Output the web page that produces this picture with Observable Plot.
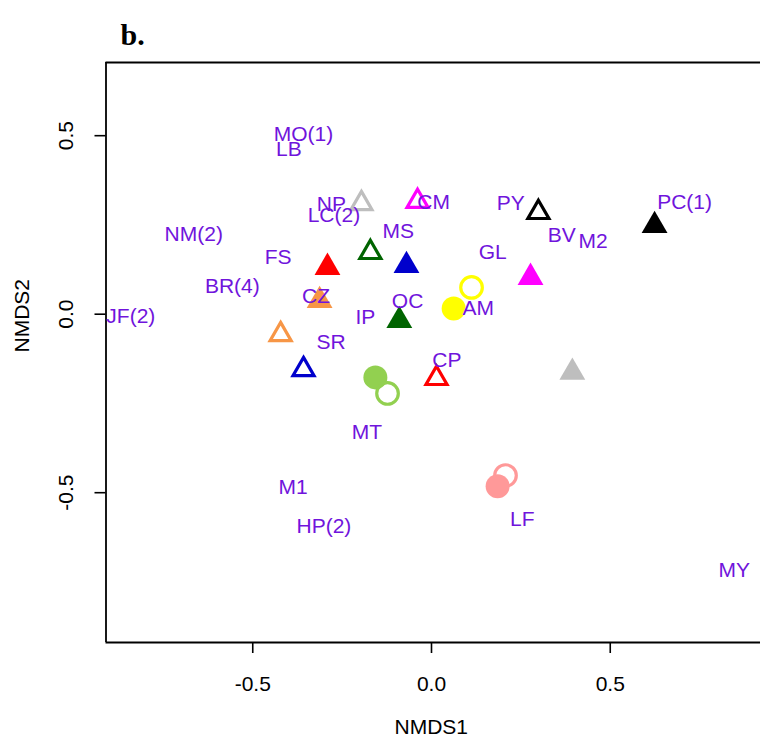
<!DOCTYPE html>
<html>
<head>
<meta charset="utf-8">
<script src="https://cdn.jsdelivr.net/npm/d3@7"></script>
<script src="https://cdn.jsdelivr.net/npm/@observablehq/plot@0.6"></script>
<style>
  html, body { margin: 0; padding: 0; background: #fff; }
  #chart svg { display: block; }
</style>
</head>
<body>
<div id="chart"></div>
<script>
// Axis settings
const xDomain = [-0.9105, 0.9203];
const yDomain = [-0.9196, 0.7050];
const xTicks = [-0.5, 0.0, 0.5];
const yTicks = [-0.5, 0.0, 0.5];
const xTitle = "NMDS1";
const yTitle = "NMDS2";
const panelTitle = "b.";

// Points (NMDS scores)
const ptX = [-0.196, -0.039, -0.171, -0.291, -0.070, -0.313, -0.090, -0.422, -0.358, -0.157, -0.123, 0.014, 0.112, 0.062, 0.277, 0.299, 0.624, 0.394, 0.207, 0.185];
const ptY = [0.310, 0.316, 0.173, 0.131, 0.136, 0.038, -0.018, -0.057, -0.155, -0.177, -0.222, -0.180, 0.075, 0.016, 0.103, 0.285, 0.248, -0.163, -0.452, -0.482];
const ptColor = ["#BEBEBE", "#FF00FF", "#006400", "#FF0000", "#0000CC", "#F79646", "#006400", "#F79646", "#0000CC", "#92D050", "#92D050", "#FF0000", "#FFFF00", "#FFFF00", "#FF00FF", "#000000", "#000000", "#BEBEBE", "#FF9999", "#FF9999"];
const ptShape = ["triangle", "triangle", "triangle", "triangle", "triangle", "triangle", "triangle", "triangle", "triangle", "circle", "circle", "triangle", "circle", "circle", "triangle", "triangle", "triangle", "triangle", "circle", "circle"];
const ptFilled = [false, false, false, true, true, true, true, false, false, true, false, false, false, true, true, false, true, true, false, true];

// Site labels
const labText = ["MO(1)", "LB", "NP", "LC(2)", "NM(2)", "MS", "FS", "BR(4)", "CZ", "OC", "JF(2)", "IP", "SR", "CM", "PY", "PC(1)", "BV", "M2", "GL", "AM", "CP", "MT", "M1", "HP(2)", "LF", "MY"];
const labX = [-0.358, -0.399, -0.280, -0.273, -0.665, -0.093, -0.429, -0.557, -0.323, -0.067, -0.841, -0.185, -0.281, 0.006, 0.222, 0.708, 0.364, 0.452, 0.171, 0.131, 0.043, -0.181, -0.387, -0.301, 0.254, 0.847];
const labY = [0.505, 0.462, 0.308, 0.276, 0.224, 0.232, 0.160, 0.079, 0.051, 0.037, -0.006, -0.008, -0.079, 0.314, 0.311, 0.313, 0.222, 0.205, 0.174, 0.018, -0.129, -0.331, -0.484, -0.593, -0.575, -0.717];
const labColor = "#7014DC";

const points = ptX.map((x, i) => ({x, y: ptY[i], color: ptColor[i], shape: ptShape[i], filled: ptFilled[i]}));
const labels = labText.map((t, i) => ({t, x: labX[i], y: labY[i]}));

const FONT = "'Liberation Sans', Arial, Helvetica, sans-serif";

const pointMarks = points.map(p => Plot.dot([p], {
  x: "x", y: "y",
  symbol: p.shape,
  r: p.shape === "circle" ? (p.filled ? 12 : 10.8) : (p.filled ? 9.6 : 7.8),
  fill: p.filled ? p.color : "none",
  stroke: p.filled ? "none" : p.color,
  strokeWidth: 3.2
}));

const chart = Plot.plot({
  width: 760,
  height: 747,
  marginLeft: 105.5,
  marginRight: 0,
  marginTop: 62,
  marginBottom: 105,
  x: {domain: xDomain},
  y: {domain: yDomain},
  style: {fontFamily: FONT, fontSize: "21px", background: "white", color: "black"},
  marks: [
    // frame (left, top, bottom; right edge lies outside the picture)
    Plot.ruleX([xDomain[0]], {stroke: "black", strokeWidth: 1.8}),
    Plot.ruleY([yDomain[1], yDomain[0]], {stroke: "black", strokeWidth: 1.8}),
    Plot.axisX(xTicks, {tickSize: 11, tickPadding: 22.5, tickFormat: d => d.toFixed(1), fontSize: 21, label: null, strokeWidth: 1.6}),
    Plot.axisY(yTicks, {tickSize: 11, tickFormat: () => "", label: null, strokeWidth: 1.6}),
    Plot.text(yTicks, {y: d => d, text: d => d.toFixed(1), frameAnchor: "left", dx: -39.5, rotate: -90, textAnchor: "middle", lineAnchor: "middle", fontSize: 21, fill: "black"}),
    Plot.text([xTitle], {frameAnchor: "bottom", dy: 91, dx: -2, text: d => d, fontSize: 21, fill: "black"}),
    Plot.text([yTitle], {frameAnchor: "left", dx: -83.5, rotate: -90, text: d => d, fontSize: 21, fill: "black"}),
    Plot.text([panelTitle], {frameAnchor: "top-left", dx: 14.5, dy: -38.6, text: d => d, textAnchor: "start", fontSize: 30, fontWeight: "bold", fontFamily: "'Liberation Serif', 'Times New Roman', serif", fill: "black"}),
    ...pointMarks,
    Plot.text(labels, {x: "x", y: "y", text: "t", fill: labColor, fontSize: 21})
  ]
});

document.getElementById("chart").appendChild(chart);
</script>
</body>
</html>
